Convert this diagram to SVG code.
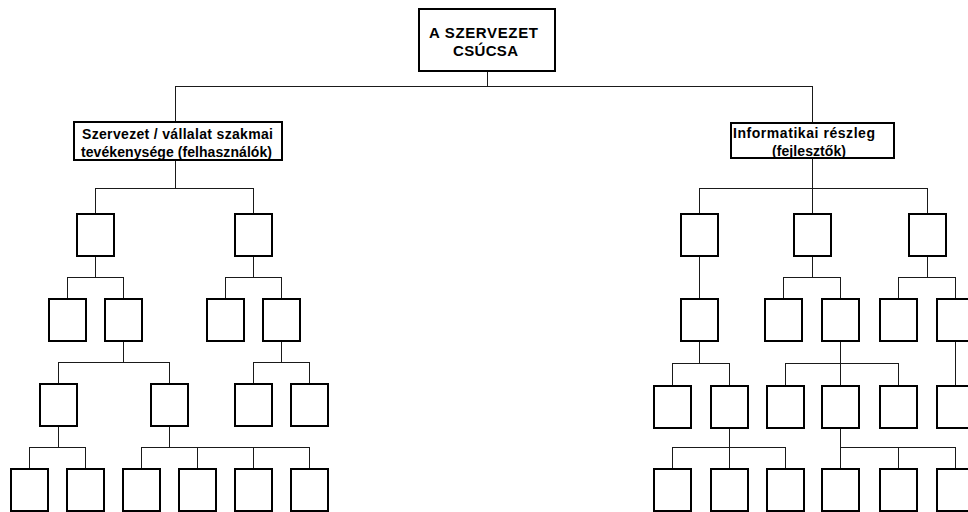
<svg xmlns="http://www.w3.org/2000/svg" width="968" height="512" viewBox="0 0 968 512">
  <style>
    .box { fill: #ffffff; stroke: #000000; stroke-width: 2; }
    .lbl { font-family: "Liberation Sans", Arial, sans-serif; font-weight: bold; font-size: 14px; fill: #000000; }
    .big { font-size: 15px; }
    #connectors path { fill: none; stroke: #1a1a1a; stroke-width: 1; }
  </style>
  <defs>
    <rect id="unit" width="37" height="42" class="box"/>
  </defs>
  <rect width="968" height="512" fill="#ffffff"/>

  <!-- connector lines -->
  <g id="connectors">
    <path d="M487.5 72 V86.5 M175.5 86.5 H812.5 M175.5 86 V122 M812.5 86 V123"/>
    <!-- users branch -->
    <path d="M175.5 160 V188.5 M95.5 188.5 H253.5 M95.5 188 V213 M253.5 188 V213"/>
    <path d="M95.5 257 V277.5 M67.5 277.5 H123.5 M67.5 277 V298 M123.5 277 V298"/>
    <path d="M253.5 257 V277.5 M225.5 277.5 H281.5 M225.5 277 V298 M281.5 277 V298"/>
    <path d="M123.5 342 V362.5 M58.5 362.5 H169.5 M58.5 362 V383 M169.5 362 V383"/>
    <path d="M281.5 342 V362.5 M253.5 362.5 H309.5 M253.5 362 V383 M309.5 362 V383"/>
    <path d="M58.5 427 V447.5 M29.5 447.5 H85.5 M29.5 447 V468 M85.5 447 V468"/>
    <path d="M169.5 427 V447.5 M141.5 447.5 H309.5 M141.5 447 V468 M197.5 447 V468 M253.5 447 V468 M309.5 447 V468"/>
    <!-- developers branch -->
    <path d="M812.5 158 V188.5 M699.5 188.5 H927.5 M699.5 188 V213 M812.5 188 V213 M927.5 188 V213"/>
    <path d="M699.5 257 V298"/>
    <path d="M812.5 257 V277.5 M783.5 277.5 H840.5 M783.5 277 V298 M840.5 277 V298"/>
    <path d="M927.5 257 V277.5 M898.5 277.5 H955.5 M898.5 277 V298 M955.5 277 V298"/>
    <path d="M699.5 342 V363.5 M672.5 363.5 H729.5 M672.5 363 V385 M729.5 363 V385"/>
    <path d="M840.5 342 V363.5 M785.5 363.5 H898.5 M785.5 363 V385 M840.5 363 V385 M898.5 363 V385"/>
    <path d="M955.5 342 V385"/>
    <path d="M729.5 429 V447.5 M672.5 447.5 H785.5 M672.5 447 V468 M729.5 447 V468 M785.5 447 V468"/>
    <path d="M840.5 429 V447.5 M840.5 447.5 H955.5 M840.5 447 V468 M898.5 447 V468 M955.5 447 V468"/>
  </g>

  <!-- top of the organisation -->
  <g id="top">
    <rect x="419" y="9" width="136" height="62" class="box"/>
    <text class="lbl big" x="429" y="37.5" textLength="109" lengthAdjust="spacing">A SZERVEZET</text>
    <text class="lbl big" x="453" y="55.5" textLength="65" lengthAdjust="spacing">CSÚCSA</text>
  </g>

  <g id="users">
    <rect x="74" y="122" width="208" height="38" class="box"/>
    <text class="lbl" x="82" y="139" textLength="191" lengthAdjust="spacing">Szervezet / vállalat szakmai</text>
    <text class="lbl" x="81" y="157" textLength="191" lengthAdjust="spacing">tevékenysége (felhasználók)</text>
  </g>

  <g id="developers">
    <rect x="731" y="123" width="163" height="35" class="box"/>
    <text class="lbl" x="733" y="138" textLength="142" lengthAdjust="spacing">Informatikai részleg</text>
    <text class="lbl" x="772" y="156" textLength="74" lengthAdjust="spacing">(fejlesztők)</text>
  </g>

  <!-- users branch units -->
  <g id="u1a"><use href="#unit" x="77" y="214"/></g>
  <g id="u1b"><use href="#unit" x="235" y="214"/></g>
  <g id="u2a"><use href="#unit" x="49" y="299"/></g>
  <g id="u2b"><use href="#unit" x="105" y="299"/></g>
  <g id="u2c"><use href="#unit" x="207" y="299"/></g>
  <g id="u2d"><use href="#unit" x="263" y="299"/></g>
  <g id="u3a"><use href="#unit" x="40" y="384"/></g>
  <g id="u3b"><use href="#unit" x="151" y="384"/></g>
  <g id="u3c"><use href="#unit" x="235" y="384"/></g>
  <g id="u3d"><use href="#unit" x="291" y="384"/></g>
  <g id="u4a"><use href="#unit" x="11" y="469"/></g>
  <g id="u4b"><use href="#unit" x="67" y="469"/></g>
  <g id="u4c"><use href="#unit" x="123" y="469"/></g>
  <g id="u4d"><use href="#unit" x="179" y="469"/></g>
  <g id="u4e"><use href="#unit" x="235" y="469"/></g>
  <g id="u4f"><use href="#unit" x="291" y="469"/></g>

  <!-- developers branch units -->
  <g id="d1a"><use href="#unit" x="681" y="214"/></g>
  <g id="d1b"><use href="#unit" x="794" y="214"/></g>
  <g id="d1c"><use href="#unit" x="909" y="214"/></g>
  <g id="d2a"><use href="#unit" x="681" y="299"/></g>
  <g id="d2b"><use href="#unit" x="765" y="299"/></g>
  <g id="d2c"><use href="#unit" x="822" y="299"/></g>
  <g id="d2d"><use href="#unit" x="880" y="299"/></g>
  <g id="d2e"><use href="#unit" x="937" y="299"/></g>
  <g id="d3a"><use href="#unit" x="654" y="386"/></g>
  <g id="d3b"><use href="#unit" x="711" y="386"/></g>
  <g id="d3c"><use href="#unit" x="767" y="386"/></g>
  <g id="d3d"><use href="#unit" x="822" y="386"/></g>
  <g id="d3e"><use href="#unit" x="880" y="386"/></g>
  <g id="d3f"><use href="#unit" x="937" y="386"/></g>
  <g id="d4a"><use href="#unit" x="654" y="469"/></g>
  <g id="d4b"><use href="#unit" x="711" y="469"/></g>
  <g id="d4c"><use href="#unit" x="767" y="469"/></g>
  <g id="d4d"><use href="#unit" x="822" y="469"/></g>
  <g id="d4e"><use href="#unit" x="880" y="469"/></g>
  <g id="d4f"><use href="#unit" x="937" y="469"/></g>
</svg>
